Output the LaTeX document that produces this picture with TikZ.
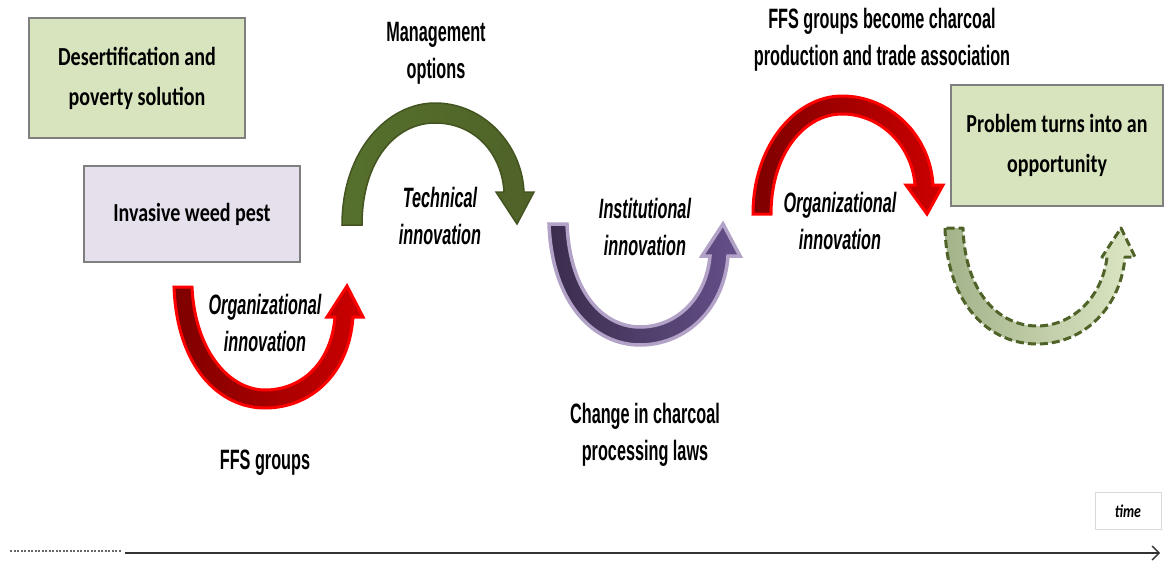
\documentclass[tikz,border=0pt]{standalone}
\usepackage{fontspec}
\setmainfont{Liberation Sans}
\newfontfamily\labfont{Liberation Sans}[FakeStretch=0.58]
\newfontfamily\boxfont{Carlito}[FakeStretch=0.77]
\usetikzlibrary{arrows.meta,calc}
\definecolor{boxgreen}{HTML}{D7E4BD}
\definecolor{boxlav}{HTML}{E5E0EC}
\definecolor{boxedge}{HTML}{7F7F7F}
\definecolor{redout}{HTML}{FF0000}
\definecolor{redin1}{HTML}{7E0000}
\definecolor{redin2}{HTML}{CC0000}
\definecolor{grnout}{HTML}{435420}
\definecolor{grnin}{HTML}{4F6228}
\definecolor{grnin2}{HTML}{56702C}
\definecolor{purout}{HTML}{B3A2C7}
\definecolor{purin1}{HTML}{3A2D4C}
\definecolor{purin2}{HTML}{65508A}
\definecolor{dgreen}{HTML}{4F6228}
\definecolor{sage1}{HTML}{A3B38A}
\definecolor{sage2}{HTML}{DCE6C4}
\tikzset{
  lab/.style={font=\labfont\bfseries\fontsize{28}{37}\selectfont, align=center, inner sep=0pt},
  ilab/.style={font=\labfont\bfseries\itshape\fontsize{28}{37}\selectfont, align=center, inner sep=0pt},
  bx/.style={draw=boxedge, line width=1.5pt, font=\boxfont\bfseries\fontsize{26}{40}\selectfont, align=center},
  redarrow/.style={draw=redout, line width=3pt, line join=miter, left color=redin1, right color=redin2},
  purarrow/.style={draw=purout, line width=3.5pt, line join=miter, left color=purin1, right color=purin2},
  grnarrow/.style={draw=grnout, line width=1.5pt, line join=miter, left color=grnin2, right color=grnin},
  futarrow/.style={draw=dgreen, line width=3pt, dash pattern=on 8pt off 4pt, line join=round, left color=sage1, right color=sage2},
}
\begin{document}
\begin{tikzpicture}[x=1pt,y=-1pt]
\useasboundingbox (0,0) rectangle (1165,562);
\fill[white] (0,0) rectangle (1165,562);

% boxes
\node[bx, fill=boxgreen, minimum width=216pt, minimum height=120pt] (goal) at (137,78) {Desertification and\\poverty solution};
\node[bx, fill=boxlav, minimum width=216pt, minimum height=96pt] (pest) at (192,214) {Invasive weed pest};
\node[bx, fill=boxgreen, minimum width=212pt, minimum height=121pt] (opp) at (1057,145.5) {Problem turns into an\\opportunity};

% arrow A: red U
\path[redarrow]
  (174,287) .. controls (177,368) and (220,408) .. (265,408)
  .. controls (310,408) and (349,375) .. (353,317)
  -- (363,317) -- (347,286) -- (327,317) -- (335,317)
  .. controls (331,365) and (300,390) .. (265,390)
  .. controls (230,390) and (195,352) .. (192,287) -- cycle;

% arrow B: green arch
\path[grnarrow]
  (342,225) .. controls (342,150) and (388,103) .. (435,103)
  .. controls (484,103) and (522,145) .. (524,192)
  -- (534,192) -- (517,224) -- (496,192) -- (504,192)
  .. controls (502,155) and (476,123) .. (435,123)
  .. controls (396,123) and (362,160) .. (362,225) -- cycle;

% arrow C: purple U
\path[purarrow]
  (549,224) .. controls (552,305) and (595,345) .. (640,345)
  .. controls (685,345) and (724,310) .. (728,256)
  -- (740,256) -- (723,224) -- (702,256) -- (710,256)
  .. controls (706,300) and (675,327) .. (640,327)
  .. controls (605,327) and (570,295) .. (567,224) -- cycle;

% arrow D: red arch
\path[redarrow]
  (753,214) .. controls (753,145) and (796,96) .. (842,96)
  .. controls (890,96) and (930,135) .. (933,185)
  -- (943,185) -- (927,214) -- (906,185) -- (915,185)
  .. controls (912,145) and (880,114) .. (842,114)
  .. controls (805,114) and (771,153) .. (771,214) -- cycle;

% arrow E: dashed future U
\path[futarrow]
  (945,228) .. controls (947,306) and (990,344) .. (1037,344)
  .. controls (1085,344) and (1121,306) .. (1125,257)
  -- (1135,257) -- (1121,228) -- (1102,257) -- (1107,257)
  .. controls (1103,294) and (1075,326) .. (1037,326)
  .. controls (1000,326) and (965,294) .. (963,228) -- cycle;

% labels
\node[lab] (mgmt) at (436,53) {Management\\options};
\node[ilab] (tech) at (440,216) {Technical\\innovation};
\node[ilab] (org1) at (265,323) {Organizational\\innovation};
\node[lab] (ffs) at (265,463) {FFS groups};
\node[ilab] (inst) at (645,227) {Institutional\\innovation};
\node[lab] (law) at (645,435) {Change in charcoal\\processing laws};
\node[lab] (assoc) at (882,40) {FFS groups become charcoal\\production and trade association};
\node[ilab] (org2) at (840,221) {Organizational\\innovation};

% time axis
\node[draw=black!15, line width=1pt, minimum width=66pt, minimum height=37pt, font=\boxfont\bfseries\itshape\fontsize{18}{20}\selectfont] (time) at (1128,511) {time};
\coordinate (d0) at (10,551);
\coordinate (d1) at (122,551);
\coordinate (s0) at (125,553);
\coordinate (s1) at (1160,553);
\draw[line width=1.8pt, black!60, dash pattern=on 2pt off 1.5pt] (d0) -- (d1);
\draw[line width=1.3pt, black!80, -{Straight Barb[length=7pt,width=14pt]}] (s0) -- (s1);
\end{tikzpicture}
\end{document}
